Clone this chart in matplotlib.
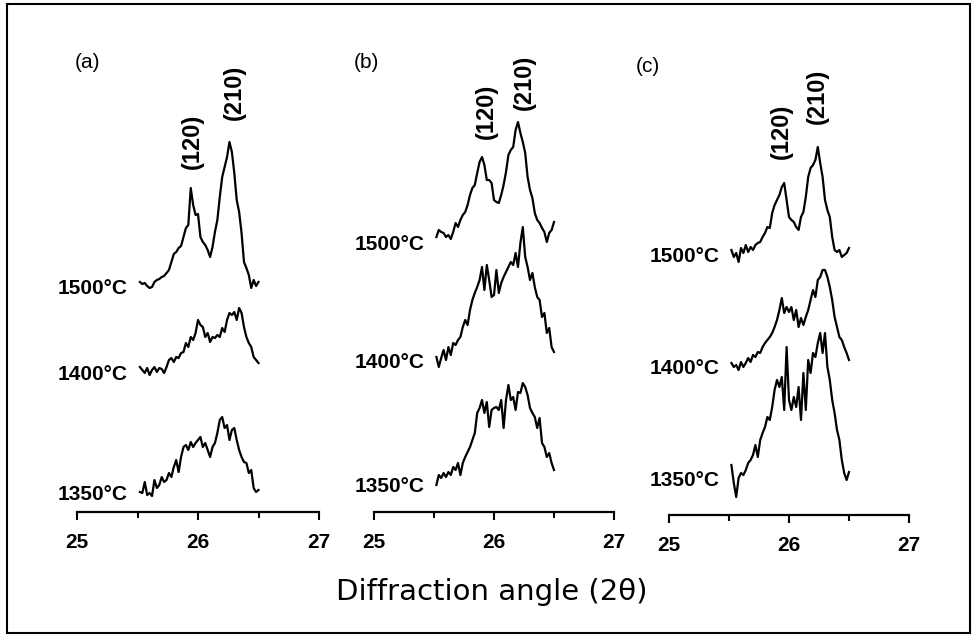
import numpy as np
import matplotlib
matplotlib.use("Agg")
import matplotlib.pyplot as plt

plt.rcParams['font.family'] = ['Liberation Sans', 'DejaVu Sans']

## data: scan grid (2theta) and intensities (a.u.)
two_theta = np.round(np.arange(25.52, 26.505, 0.02), 2)

temps = ['1500°C', '1400°C', '1350°C']
panel_names = ['(a)', '(b)', '(c)']

# panel (a)
a1500 = [10, 8, 9, 6, 4, 5, 10, 12, 13, 15, 16, 19, 22, 30, 38, 40, 44, 46, 55, 64,
         67, 104, 87, 77, 78, 55, 50, 47, 42, 35, 45, 60, 72, 95, 115, 125, 135, 150, 140, 119,
         92, 80, 59, 30, 24, 17, 4, 12, 6, 10]
a1400 = [15, 12, 9, 14, 7, 12, 15, 10, 14, 13, 9, 15, 22, 24, 20, 25, 24, 29, 30, 39,
         35, 45, 42, 49, 62, 57, 55, 45, 49, 40, 45, 44, 47, 45, 54, 50, 62, 69, 67, 70,
         62, 74, 69, 55, 45, 39, 35, 25, 22, 19]
a1350 = [10, 9, 20, 7, 9, 6, 22, 14, 17, 25, 20, 22, 29, 25, 35, 42, 30, 45, 55, 57,
         52, 60, 55, 59, 62, 65, 55, 59, 52, 45, 55, 59, 69, 82, 85, 74, 77, 62, 72, 74,
         62, 52, 45, 40, 39, 29, 32, 14, 10, 12]
# panel (b)
b1500 = [15, 22, 20, 19, 15, 17, 13, 20, 29, 25, 32, 37, 40, 47, 57, 64, 67, 79, 90, 95,
         87, 72, 72, 69, 52, 50, 49, 57, 67, 80, 97, 102, 105, 122, 130, 119, 110, 99, 75, 62,
         54, 39, 32, 29, 24, 20, 10, 19, 22, 30]
b1400 = [10, 0, 9, 17, 7, 20, 12, 24, 22, 27, 30, 40, 47, 42, 57, 67, 74, 80, 87, 100,
         77, 102, 87, 70, 72, 97, 74, 84, 90, 95, 100, 105, 102, 114, 100, 124, 140, 110, 100, 87,
         94, 80, 70, 67, 50, 54, 34, 39, 20, 15]
b1350 = [7, 17, 14, 19, 15, 20, 17, 25, 22, 29, 17, 29, 35, 40, 45, 52, 59, 79, 84, 92,
         79, 90, 65, 82, 84, 85, 82, 92, 64, 92, 107, 92, 95, 82, 100, 99, 109, 105, 97, 84,
         79, 75, 64, 74, 49, 45, 35, 39, 29, 22]
# panel (c)
c1500 = [15, 8, 12, 3, 17, 12, 20, 13, 18, 15, 20, 22, 23, 28, 32, 38, 37, 52, 60, 65,
         70, 78, 82, 65, 48, 45, 43, 38, 35, 48, 53, 68, 88, 97, 100, 105, 118, 102, 88, 65,
         55, 48, 28, 15, 13, 15, 8, 10, 12, 17]
c1400 = [12, 8, 10, 5, 13, 8, 12, 17, 13, 20, 18, 23, 22, 28, 32, 35, 38, 42, 48, 55,
         65, 77, 62, 68, 63, 68, 55, 65, 48, 57, 50, 58, 65, 75, 85, 78, 95, 98, 105, 105,
         98, 88, 75, 58, 48, 38, 35, 28, 22, 15]
c1350 = [35, 17, 3, 22, 27, 25, 30, 37, 40, 45, 55, 43, 60, 67, 73, 83, 80, 93, 110, 120,
         113, 123, 90, 153, 100, 90, 103, 93, 113, 80, 127, 90, 140, 127, 147, 143, 157, 167, 147, 167,
         133, 120, 100, 87, 70, 60, 40, 27, 20, 28]

curves = [[a1500, a1400, a1350], [b1500, b1400, b1350], [c1500, c1400, c1350]]

## stacking / placement (pixels above the axis line)
offsets = [[220, 130, 10], [260, 145, 20], [250, 140, 15]]
label_y = [[224, 138, 17], [267, 149, 26], [259, 147, 35]]
peak_x = [[25.955, 26.30], [25.933, 26.25], [25.933, 26.233]]
peak_y = [[371, 420], [401, 430], [384, 419]]
panel_x = [24.98, 24.83, 24.72]

# axes boxes in pixels
W, H = 975, 637
ax_left = [77, 374, 669]
ax_right = [319, 614, 909]
ax_bottom = [512, 512, 515]
ax_top = 20

fig = plt.figure(figsize=(9.75, 6.37), dpi=100)

for k in range(3):
    l, r, b = ax_left[k], ax_right[k], ax_bottom[k]
    ax = fig.add_axes([l / W, (H - b) / H, (r - l) / W, (b - ax_top) / H])
    ax.set_xlim(25, 27)
    ax.set_ylim(0, b - ax_top)
    for j in range(3):
        y = np.array(curves[k][j]) + offsets[k][j]
        ax.plot(two_theta, y, color='k', lw=1.6)
        ax.text(25.42, label_y[k][j], temps[j], ha='right', va='center',
                fontsize=15, fontweight='bold')
    ax.text(peak_x[k][0], peak_y[k][0], '(120)', rotation=90, ha='center', va='center',
            fontsize=17, fontweight='bold')
    ax.text(peak_x[k][1], peak_y[k][1], '(210)', rotation=90, ha='center', va='center',
            fontsize=17, fontweight='bold')
    ax.text(panel_x[k], 449, panel_names[k], ha='left', va='center', fontsize=15)

    for s in ['left', 'right', 'top']:
        ax.spines[s].set_visible(False)
    ax.spines['bottom'].set_linewidth(1.6)
    ax.set_yticks([])
    ax.set_xticks([25, 26, 27])
    ax.set_xticks([25.5, 26.5], minor=True)
    ax.tick_params(axis='x', which='major', direction='out', length=6, width=1.5,
                   pad=9, labelsize=15)
    ax.tick_params(axis='x', which='minor', direction='out', length=4, width=1.5)
    for t in ax.get_xticklabels():
        t.set_fontweight('bold')
    ax.patch.set_visible(False)

fig.text(491.5 / W, (H - 592) / H, 'Diffraction angle (2θ)', ha='center', va='center',
         fontsize=21, family=['DejaVu Sans'])

# outer frame
fig.add_artist(plt.Rectangle((7 / W, (H - 633) / H), (970 - 7) / W, (633 - 4) / H,
                             transform=fig.transFigure, fill=False, lw=1.5, color='k'))

fig.savefig('out.png', dpi=100)
